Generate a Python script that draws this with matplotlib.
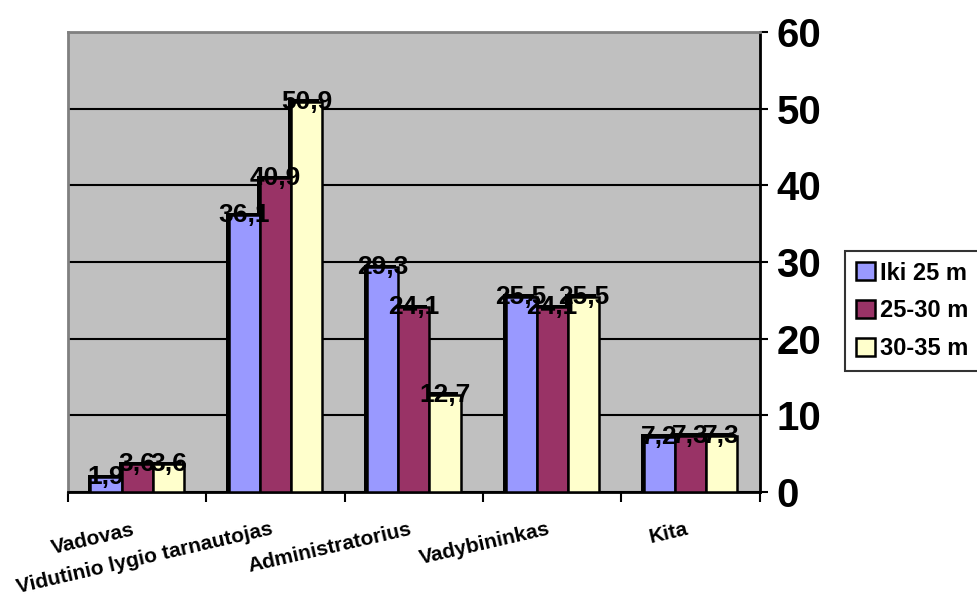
import numpy as np
import matplotlib.pyplot as plt
from matplotlib.transforms import ScaledTranslation

# data
categories = ['Vadovas', 'Vidutinio lygio tarnautojas', 'Administratorius',
              'Vadybininkas', 'Kita']
series_names = ['Iki 25 m', '25-30 m', '30-35 m']
iki_25 = [1.9, 36.1, 29.3, 25.5, 7.2]
m_25_30 = [3.6, 40.9, 24.1, 24.1, 7.3]
m_30_35 = [3.6, 50.9, 12.7, 25.5, 7.3]
colors = ['#9999FF', '#993366', '#FFFFCC']

plt.rcParams['font.family'] = ['Liberation Sans', 'DejaVu Sans']
plt.rcParams['font.weight'] = 'bold'

fig = plt.figure(figsize=(9.77, 5.99), dpi=100)
ax = fig.add_axes([0.0696, 0.1786, 0.708, 0.768])
ax.set_facecolor('#C0C0C0')

x = np.arange(len(categories))
w = 0.225
handles = []
for i, (vals, color) in enumerate(zip([iki_25, m_25_30, m_30_35], colors)):
    pos = x + (i - 1) * w
    # dark side of the pseudo-3D bar
    ax.bar(pos - 0.02, np.array(vals) + 0.35, w, color='black', zorder=2)
    b = ax.bar(pos, vals, w, color=color, edgecolor='black', linewidth=1.8,
               zorder=3, label=series_names[i])
    handles.append(b)
    for p, v in zip(pos, vals):
        ax.text(p, v, f'{v:.1f}'.replace('.', ','), ha='center', va='center',
                fontsize=19, fontweight='bold', zorder=5)

ax.set_xlim(-0.5, len(categories) - 0.5)
ax.set_ylim(0, 60)
ax.set_yticks(range(0, 61, 10))
ax.yaxis.tick_right()
ax.tick_params(axis='y', labelsize=29, length=6, width=1.5, pad=6)
for lab in ax.get_yticklabels():
    lab.set_fontweight('bold')
ax.yaxis.grid(True, color='black', linewidth=1.5, zorder=1)
ax.set_axisbelow(True)

ax.set_xticks(x)
ax.set_xticklabels(categories, rotation=13, ha='right', va='top',
                   rotation_mode='anchor', fontsize=15, fontweight='bold')
ax.tick_params(axis='x', which='major', length=0, pad=20)
shift = ScaledTranslation(-0.05, 0, fig.dpi_scale_trans)
for lab in ax.get_xticklabels():
    lab.set_transform(lab.get_transform() + shift)
ax.set_xticks(np.arange(-0.5, len(categories)), minor=True)
ax.tick_params(axis='x', which='minor', length=7, width=1.5)

for s in ['left', 'top']:
    ax.spines[s].set_color('#808080')
    ax.spines[s].set_linewidth(2)
for s in ['right', 'bottom']:
    ax.spines[s].set_color('black')
    ax.spines[s].set_linewidth(2)

leg = fig.legend(handles=handles, loc='upper left',
                 bbox_to_anchor=(845 / 977, 1 - 251 / 599),
                 prop={'size': 17, 'weight': 'bold'}, frameon=True,
                 fancybox=False, edgecolor='black', handlelength=0.8,
                 handleheight=0.8, handletextpad=0.25, labelspacing=0.62,
                 borderpad=0.45, borderaxespad=0)
leg.get_frame().set_linewidth(1.5)

fig.savefig('out.png', dpi=100)
